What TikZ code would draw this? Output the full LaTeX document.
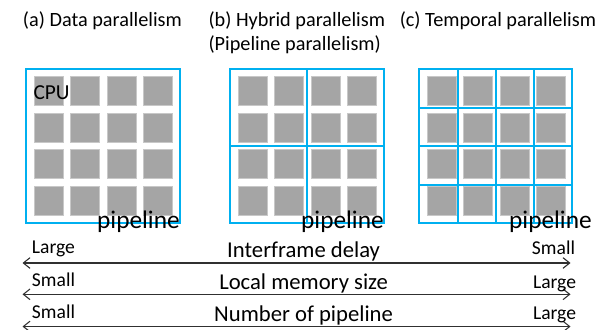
\documentclass[tikz,border=0pt]{standalone}
\usepackage{fontspec}
\setmainfont{Carlito}
\usetikzlibrary{arrows.meta,calc}
\definecolor{frameblue}{HTML}{00B0F0}
\definecolor{coregray}{HTML}{A5A5A5}
\definecolor{coreedge}{HTML}{C8C8C8}
\definecolor{axisgray}{HTML}{303030}
\tikzset{
  frame/.style={draw=frameblue, line width=1.5pt},
  core/.style={fill=coregray, draw=coreedge, line width=0.6pt},
  title/.style={font=\fontsize{15.2}{18}\selectfont, inner sep=0pt},
  tag/.style={font=\fontsize{19}{22}\selectfont, inner sep=0pt},
  cpu/.style={font=\fontsize{16}{19}\selectfont, inner sep=0pt},
  axis/.style={draw=axisgray, line width=0.8pt, {Straight Barb[length=5pt,width=8pt]}-{Straight Barb[length=5pt,width=8pt]}},
  endlbl/.style={font=\fontsize{14.7}{17}\selectfont, inner sep=0pt},
  axislbl/.style={font=\fontsize{17}{20}\selectfont, inner sep=0pt},
}
% 16 cores laid out on a 4x4 grid inside a frame whose top-left corner is #1
\newcommand{\coregrid}[1]{%
  \foreach \i in {0,...,3}{
    \foreach \j in {0,...,3}{
      \path[core] ($(#1)+(8+36.5*\i,7.7+36.4*\j)$) rectangle ++(29,29);
    }
  }
}
\begin{document}
\begin{tikzpicture}[x=0.75pt, y=-0.75pt]
\useasboundingbox (0,0) rectangle (613,329);

% titles
\node[title, anchor=base west] (ta) at (22.7,26.7) {(a) Data parallelism};
\node[title, anchor=base west] (tb) at (208.3,26.7) {(b) Hybrid parallelism};
\node[title, anchor=base west] (tb2) at (208.3,50.7) {(Pipeline parallelism)};
\node[title, anchor=base west] (tc) at (399.5,26.7) {(c) Temporal parallelism};

% (a) one pipeline holding all cores
\coordinate (A) at (26,69);
\coregrid{A}
\draw[frame] (A) rectangle ++(154,154);
\node[cpu, anchor=base west] (cpu) at (33.3,99.3) {CPU};
\node[tag, anchor=base east] (pa) at (180,228.3) {pipeline};

% (b) four pipelines, 2x2
\coordinate (B) at (230.3,69);
\coregrid{B}
\draw[frame] (B) rectangle ++(154,154);
\draw[frame] ($(B)+(77,0)$) -- ++(0,154);
\draw[frame] ($(B)+(0,77)$) -- ++(154,0);
\node[tag, anchor=base east] (pb) at (384,228.3) {pipeline};

% (c) sixteen pipelines, one core each
\coordinate (C) at (419.3,69);
\coregrid{C}
\draw[frame] (C) rectangle ++(153,154);
\foreach \k in {1,2,3}{
  \draw[frame] ($(C)+(38.25*\k,0)$) -- ++(0,154);
  \draw[frame] ($(C)+(0,38.5*\k)$) -- ++(153,0);
}
\node[tag, anchor=base east] (pc) at (592,228.3) {pipeline};

% trade-off axes
\coordinate (l1) at (22.5,263); \coordinate (r1) at (570.5,263);
\coordinate (l2) at (22.5,294.3); \coordinate (r2) at (570.5,294.3);
\coordinate (l3) at (22.5,326.5); \coordinate (r3) at (570.5,326.5);
\draw[axis] (l1) -- (r1);
\draw[axis] (l2) -- (r2);
\draw[axis] (l3) -- (r3);

\node[endlbl, anchor=base west] (d1) at (31.7,253.3) {Large};
\node[endlbl, anchor=base east] (d2) at (575.3,254.5) {Small};
\node[axislbl, anchor=base] (d0) at (303.6,257.7) {Interframe delay};

\node[endlbl, anchor=base west] (m1) at (31.7,286.7) {Small};
\node[endlbl, anchor=base east] (m2) at (576.3,288) {Large};
\node[axislbl, anchor=base] (m0) at (303.6,289.5) {Local memory size};

\node[endlbl, anchor=base west] (n1) at (31.7,318.3) {Small};
\node[endlbl, anchor=base east] (n2) at (576.3,319.5) {Large};
\node[axislbl, anchor=base] (n0) at (303.6,321) {Number of pipeline};
\end{tikzpicture}
\end{document}
